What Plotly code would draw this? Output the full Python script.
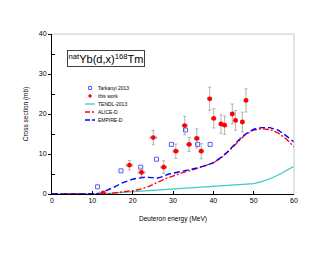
import plotly.graph_objects as go

# ---- data ----
tark_E = [11.3, 17.1, 22.0, 25.9, 29.6, 33.1, 36.1, 39.2]
tark_S = [1.8, 5.8, 6.7, 8.7, 12.4, 16.0, 12.4, 12.4]

work_E = [12.7, 19.2, 22.2, 25.1, 27.7, 30.7, 32.9, 34.0, 35.9, 37.0, 39.1, 40.1, 41.9, 42.8, 44.7, 45.5, 47.2, 48.1]
work_S = [0.25, 7.2, 5.4, 14.1, 6.7, 10.7, 17.1, 12.4, 13.9, 10.7, 23.8, 18.9, 17.5, 17.2, 20.0, 18.4, 18.0, 23.4]
work_dS = [0.1, 1.2, 1.1, 1.8, 1.6, 1.8, 2.3, 1.75, 2.4, 1.9, 2.9, 2.4, 2.3, 2.3, 2.5, 2.45, 2.45, 2.9]
work_dE = [0.9, 0.8, 0.8, 0.8, 0.7, 0.7, 0.6, 0.6, 0.6, 0.5, 0.5, 0.5, 0.5, 0.4, 0.4, 0.4, 0.4, 0.4]

tendl_E = [0, 5, 10, 12, 13, 14, 15, 16, 18, 20, 22, 25, 30, 35, 40, 45, 50, 52, 54, 56, 58, 60]
tendl_S = [0, 0, 0, 0, 0.05, 0.1, 0.2, 0.25, 0.4, 0.55, 0.7, 0.9, 1.25, 1.5, 1.8, 2.2, 2.6, 3.1, 3.8, 4.7, 5.8, 6.9]

alice_E = [0, 5, 10, 12, 13, 14, 15, 16, 17, 18, 19, 20, 21, 22, 23, 24, 25, 26, 27, 28, 29, 30, 32, 34, 36, 38, 40, 42, 44, 46, 48, 50, 52, 54, 56, 58, 60]
alice_S = [0, 0, 0, 0, 0.05, 0.1, 0.2, 0.3, 0.4, 0.55, 0.7, 0.85, 1.0, 1.2, 1.5, 1.9, 2.3, 2.8, 3.3, 3.8, 4.2, 4.5, 5.2, 5.8, 6.4, 7.1, 7.8, 9.1, 10.9, 13.0, 14.9, 16.0, 16.3, 16.1, 15.3, 13.8, 11.8]

empire_E = [0, 5, 10, 12, 13, 14, 15, 16, 17, 18, 19, 20, 21, 22, 23, 24, 25, 26, 27, 28, 29, 30, 32, 34, 36, 38, 40, 42, 44, 46, 48, 50, 52, 54, 56, 58, 60]
empire_S = [0, 0, 0, 0.2, 0.6, 1.0, 1.5, 2.0, 2.6, 3.0, 3.4, 3.7, 3.9, 4.1, 4.2, 4.15, 4.05, 3.95, 4.2, 4.7, 5.0, 5.2, 5.6, 6.0, 6.5, 7.1, 7.8, 9.2, 11.0, 13.2, 15.0, 16.2, 16.6, 16.6, 16.0, 14.6, 13.0]

legend_names = ["Tarkanyi 2013", "this work", "TENDL-2013", "ALICE-D", "EMPIRE-D"]

FONT = "Liberation Sans, Arial, sans-serif"
C_TEND = "#3cc8c8"
C_RED = "#ff0000"
C_BLUE = "#0000ff"
C_SQ = "#5a5aff"

fig = go.Figure()
fig.add_trace(go.Scatter(x=tendl_E, y=tendl_S, mode="lines", line=dict(color=C_TEND, width=1.2), name=legend_names[2]))
fig.add_trace(go.Scatter(x=alice_E, y=alice_S, mode="lines", line=dict(color=C_RED, width=1.3, dash="6px,2px,2px,2px"), name=legend_names[3]))
fig.add_trace(go.Scatter(x=empire_E, y=empire_S, mode="lines", line=dict(color=C_BLUE, width=1.4, dash="6px,3px"), name=legend_names[4]))
fig.add_trace(go.Scatter(x=tark_E, y=tark_S, mode="markers", name=legend_names[0],
                         marker=dict(symbol="square-open", size=4, color=C_SQ, line=dict(width=1))))
fig.add_trace(go.Scatter(x=work_E, y=work_S, mode="markers", name=legend_names[1],
                         marker=dict(symbol="circle", size=4.8, color=C_RED),
                         error_y=dict(type="data", array=work_dS, color="#a0a0a0", thickness=0.8, width=1.5),
                         error_x=dict(type="data", array=work_dE, color="#a0a0a0", thickness=0.8, width=1.5)))

# page has an 8px body margin: compensate so that the plot lands where the reference has it
OFF = 8
L, R, T, B = 52, 294, 34, 194
W, H = 330 - OFF, 255 - OFF
def px(x): return (x - L) / (R - L)
def py(y): return (B - y) / (B - T)

shapes = []
shapes.append(dict(type="line", xref="paper", yref="paper", x0=0, x1=1, y0=1, y1=1, line=dict(color="#c8c8c8", width=1)))
shapes.append(dict(type="line", xref="paper", yref="paper", x0=1, x1=1, y0=0, y1=1, line=dict(color="#c8c8c8", width=1)))

rows = [88, 96, 104, 112, 120]
annotations = []
for name, ry in zip(legend_names, rows):
    annotations.append(dict(text=name, xref="paper", yref="paper", x=px(96), y=py(ry), xanchor="left", yanchor="middle",
                            showarrow=False, font=dict(family=FONT, size=5, color="#000")))
shapes.append(dict(type="rect", xref="paper", yref="paper", x0=px(88.6), x1=px(91.6), y0=py(86.5), y1=py(89.5), line=dict(color=C_SQ, width=1)))
shapes.append(dict(type="circle", xref="paper", yref="paper", x0=px(88.6), x1=px(91.4), y0=py(94.6), y1=py(97.4), fillcolor=C_RED, line=dict(color=C_RED, width=0.5)))
shapes.append(dict(type="line", xref="paper", yref="paper", x0=px(85), x1=px(95), y0=py(104), y1=py(104), line=dict(color=C_TEND, width=1.3)))
shapes.append(dict(type="line", xref="paper", yref="paper", x0=px(85), x1=px(95), y0=py(112), y1=py(112), line=dict(color=C_RED, width=1.4, dash="5px,2px,2px,2px")))
shapes.append(dict(type="line", xref="paper", yref="paper", x0=px(85), x1=px(95), y0=py(120), y1=py(120), line=dict(color=C_BLUE, width=1.5, dash="5px,2px")))

shapes.append(dict(type="rect", xref="paper", yref="paper", x0=px(70), x1=px(144.5), y0=py(54), y1=py(67), fillcolor="#808080", line=dict(width=0), layer="above"))

annotations.append(dict(text="<sup>nat</sup>Yb(d,x)<sup>168</sup>Tm", xref="paper", yref="paper", x=px(105.5), y=py(58.6),
                        xanchor="center", yanchor="middle", showarrow=False,
                        font=dict(family=FONT, size=11, color="#000"), bgcolor="#ffffff", bordercolor="#404040",
                        borderwidth=1, borderpad=0.5))

fig.update_layout(
    width=W, height=H, margin=dict(l=L - OFF, r=330 - R, t=T - OFF, b=255 - B, autoexpand=False),
    paper_bgcolor="white", plot_bgcolor="white", showlegend=False,
    font=dict(family=FONT, size=7, color="#000"),
    shapes=shapes, annotations=annotations,
)
fig.update_xaxes(range=[0, 60], tickvals=[0, 10, 20, 30, 40, 50, 60], ticks="inside", ticklen=3, tickcolor="#000",
                 showline=True, linecolor="#000", linewidth=1, showgrid=False, zeroline=False, automargin=False,
                 tickfont=dict(size=7), title=dict(text="Deuteron energy (MeV)", font=dict(size=6.5), standoff=13))
fig.update_yaxes(range=[0, 40], tickvals=[0, 10, 20, 30, 40], ticks="outside", ticklen=3, tickcolor="#000",
                 minor=dict(tickvals=[5, 15, 25, 35], ticks="inside", ticklen=3, tickcolor="#000"),
                 showline=True, linecolor="#000", linewidth=1, showgrid=False, zeroline=False, automargin=False,
                 tickfont=dict(size=7), title=dict(text="Cross section (mb)", font=dict(size=6.5), standoff=9))

fig.write_html("out.html")
